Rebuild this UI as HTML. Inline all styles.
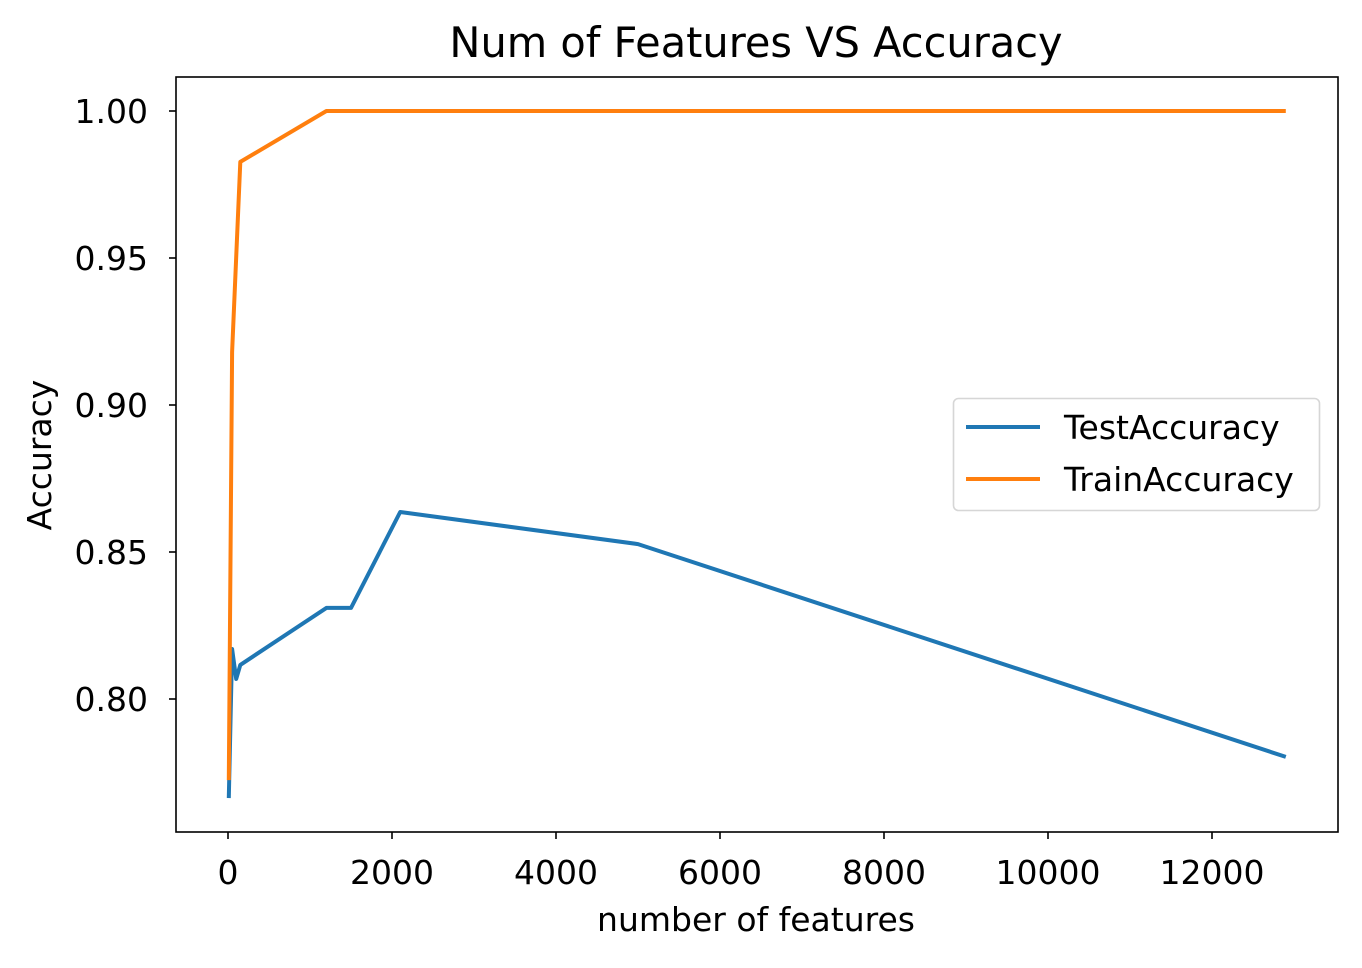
<!DOCTYPE html>
<html><head><meta charset="utf-8"><style>
body{margin:0;background:#fff}
svg text{font-family:"DejaVu Sans","Liberation Sans",sans-serif;fill:#000}
</style></head><body>
<svg id="chart" width="1362" height="963" viewBox="0 0 1362 963" xmlns="http://www.w3.org/2000/svg">
<rect width="1362" height="963" fill="#fff"/>
<g id="plot"></g>
<g id="axes"></g>
</svg>
<script>
const featureCounts=[10,50,100,150,1200,1500,2100,5000,12900];
const testAccuracy=[0.7663,0.817,0.8068,0.8116,0.831,0.831,0.8636,0.8527,0.7803];
const trainCounts=[10,50,150,1200,1500,2100,5000,12900];
const trainAccuracy=[0.7724,0.918,0.9827,1.0,1.0,1.0,1.0,1.0];
const xTicks=[0,2000,4000,6000,8000,10000,12000];
const yTicks=[0.80,0.85,0.90,0.95,1.00];
const yTickLabels=["0.80","0.85","0.90","0.95","1.00"];

const L=176,R=1338,T=77,B=832;
const FS='font-size:33px';
const xs=v=>228+v*0.082;
const ys=v=>111+(1-v)*2940;
const NS="http://www.w3.org/2000/svg";
const plot=document.getElementById('plot'),axes=document.getElementById('axes');
function mk(tag,attrs,parent){const e=document.createElementNS(NS,tag);for(const k in attrs)e.setAttribute(k,attrs[k]);parent.appendChild(e);return e;}

function line(xv,yv,color,name){
  const d=xv.map((x,i)=>(i?'L':'M')+xs(x).toFixed(1)+','+ys(yv[i]).toFixed(1)).join(' ');
  const p=mk('path',{d:d,fill:'none',stroke:color,'stroke-width':4,'stroke-linejoin':'round'},plot);
  
  
}
line(featureCounts,testAccuracy,'#1f77b4','test-accuracy-line');
line(trainCounts,trainAccuracy,'#ff7f0e','train-accuracy-line');

const frame=mk('rect',{x:L,y:T,width:R-L,height:B-T,fill:'none',stroke:'#000','stroke-width':1.6},axes);



xTicks.forEach(v=>{
  const x=xs(v);
  mk('line',{x1:x,x2:x,y1:B,y2:B+7,stroke:'#000','stroke-width':1.6},axes);
  const t=mk('text',{x:x,y:B+52,'text-anchor':'middle',style:FS},axes);
  t.textContent=String(v);
  
  
});
yTicks.forEach((v,i)=>{
  const y=ys(v);
  mk('line',{x1:L-7,x2:L,y1:y,y2:y,stroke:'#000','stroke-width':1.6},axes);
  const t=mk('text',{x:L-28,y:y+12,'text-anchor':'end',style:FS},axes);
  t.textContent=yTickLabels[i];
  
  
});
const title=mk('text',{x:756,y:57,'text-anchor':'middle',style:'font-size:41.5px'},axes);
title.textContent='Num of Features VS Accuracy';


const xl=mk('text',{x:756,y:931,'text-anchor':'middle',style:FS},axes);
xl.textContent='number of features';


const yl=mk('text',{x:0,y:0,'text-anchor':'middle',style:FS,transform:'translate(51,455) rotate(-90)'},axes);
yl.textContent='Accuracy';



const lg=mk('g',{},axes);


mk('rect',{x:953.5,y:398.5,width:366,height:112,rx:5,fill:'#fff','fill-opacity':0.8,stroke:'#d6d6d6','stroke-width':1.6},lg);
const entries=[['TestAccuracy','#1f77b4',427],['TrainAccuracy','#ff7f0e',479]];
entries.forEach(e=>{
  mk('line',{x1:966,x2:1040,y1:e[2],y2:e[2],stroke:e[1],'stroke-width':4},lg);
  const t=mk('text',{x:1064,y:e[2]+12,style:FS},lg);
  t.textContent=e[0];
  
  
});
</script>
</body></html>
